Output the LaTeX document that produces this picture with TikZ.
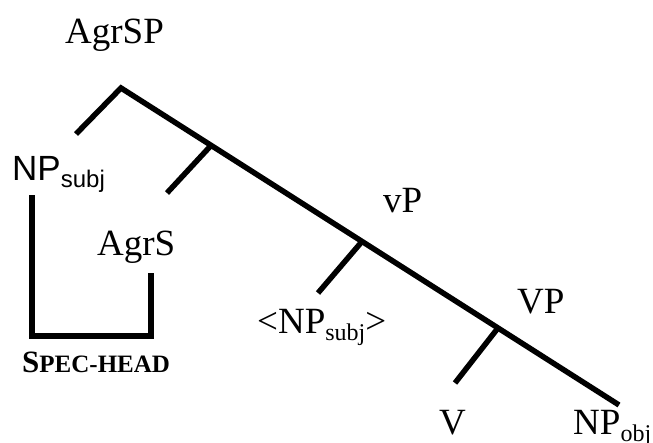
\documentclass[tikz,border=0pt]{standalone}
\usepackage{fontspec}
\setmainfont{Liberation Serif}
\newfontfamily\sansf{Liberation Sans}
\usetikzlibrary{calc}
\newcommand\mysub[1]{\raisebox{-0.2em}{\fontsize{24}{24}\selectfont #1}}
\begin{document}
\begin{tikzpicture}[x=1pt,y=-1pt,
  branch/.style={line width=5.5pt, line join=miter},
  lab/.style={inner sep=0pt, anchor=base west, font=\fontsize{37}{40}\selectfont},
  slab/.style={inner sep=0pt, anchor=base west, font=\sansf\fontsize{35}{40}\selectfont},
  sclab/.style={inner sep=0pt, anchor=base west, font=\bfseries}]
\useasboundingbox (0,0) rectangle (653,442);
% labels
\node[lab] (agrsp) at (65,43) {AgrSP};
\node[slab] (npsubj) at (12,180) {NP\mysub{subj}};
\node[lab] (agrs) at (97,255) {AgrS};
\node[lab] (vp) at (383,212) {vP};
\node[lab] (trace) at (257,333) {<NP\mysub{subj}>};
\node[lab] (VP) at (517,313) {VP};
\node[lab] (v) at (439,434) {V};
\node[lab] (npobj) at (573,434) {NP\mysub{obj}};
\node[sclab] (spec) at (22,372) {\fontsize{31}{31}\selectfont S\fontsize{25}{25}\selectfont PEC-HEAD};
% tree
\coordinate (apex) at (121,88);
\coordinate (tail) at (619,405);
\coordinate (lspec) at (76,134);
\coordinate (b1) at ($(apex)!0.181!(tail)$);
\coordinate (b2) at ($(apex)!0.484!(tail)$);
\coordinate (b3) at ($(apex)!0.757!(tail)$);
\coordinate (b1l) at (167,193);
\coordinate (b2l) at (318,293);
\coordinate (b3l) at (455,383);
\draw[branch] (lspec) -- (apex) -- (tail);
\draw[branch] (b1) -- (b1l);
\draw[branch] (b2) -- (b2l);
\draw[branch] (b3) -- (b3l);
% spec-head bracket
\coordinate (brL) at (32,195);
\coordinate (brBL) at (32,336);
\coordinate (brBR) at (151,336);
\coordinate (brR) at (151,273);
\draw[branch] (brL) -- (brBL) -- (brBR) -- (brR);
\end{tikzpicture}
\end{document}
